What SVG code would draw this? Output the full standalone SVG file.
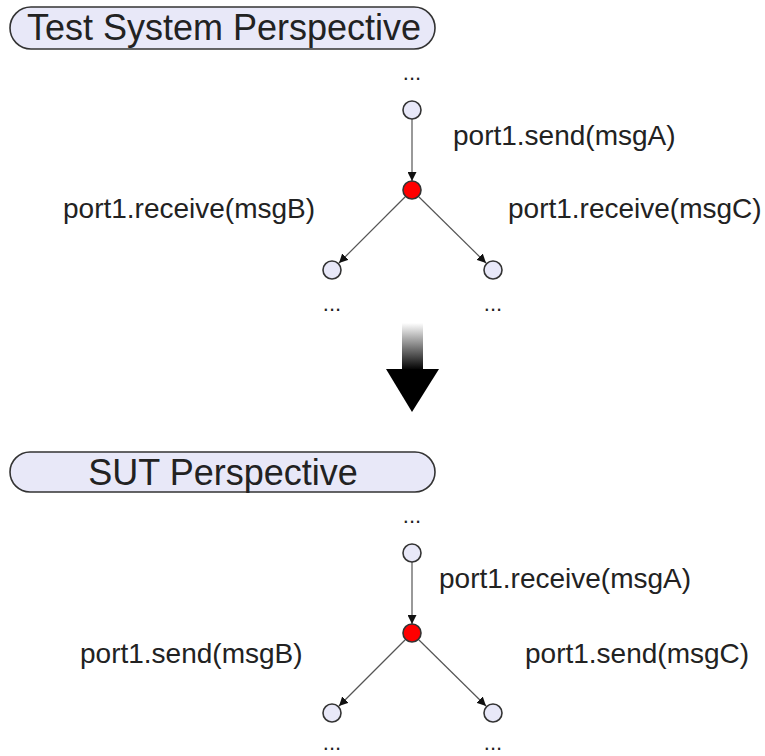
<svg xmlns="http://www.w3.org/2000/svg" width="765" height="756" viewBox="0 0 765 756">
<style>
.pill{fill:#e8e8f8;stroke:#333;stroke-width:1.6}
.title{font-family:"Liberation Sans",Arial,sans-serif;font-size:36px;fill:#222;text-anchor:middle}
.st{fill:#e8e8f8;stroke:#333;stroke-width:1.6}
.red{fill:#ff0000;stroke:#333;stroke-width:1.6}
.lbl{font-family:"Liberation Sans",Arial,sans-serif;font-size:28px;fill:#222}
.dots{font-family:"Liberation Sans",Arial,sans-serif;font-size:22px;fill:#222;text-anchor:middle}
.edge{stroke:#555;stroke-width:1.2;fill:none;marker-end:url(#ah)}
</style>
<defs>
<marker id="ah" viewBox="0 0 10 10" refX="10" refY="5" markerWidth="9" markerHeight="9" markerUnits="userSpaceOnUse" orient="auto">
<path d="M0,0 L10,5 L0,10 z" fill="#111"/>
</marker>
<linearGradient id="grad" x1="0" y1="0" x2="0" y2="1">
<stop offset="0" stop-color="#ffffff"/>
<stop offset="1" stop-color="#000000"/>
</linearGradient>
</defs>

<g id="title-test">
<rect class="pill" x="10" y="7" width="425" height="42" rx="21" ry="21"/>
<text class="title" x="224" y="40">Test System Perspective</text>
</g>

<g id="connectors-top">
<line class="edge" x1="412" y1="119" x2="412" y2="181"/>
<line class="edge" x1="405" y1="197" x2="339" y2="263"/>
<line class="edge" x1="419" y1="197" x2="486" y2="263"/>
</g>

<g id="t-dots-top"><text class="dots" x="412" y="80">...</text></g>
<g id="t-s0"><circle class="st" cx="412" cy="110" r="9"/></g>
<g id="t-s1"><circle class="red" cx="412" cy="190" r="9"/></g>
<g id="t-s2"><circle class="st" cx="332" cy="270" r="9"/><text class="dots" x="332" y="311">...</text></g>
<g id="t-s3"><circle class="st" cx="493" cy="270" r="9"/><text class="dots" x="493" y="311">...</text></g>
<g id="t-labels">
<text class="lbl" x="453" y="145">port1.send(msgA)</text>
<text class="lbl" x="63" y="218">port1.receive(msgB)</text>
<text class="lbl" x="508" y="218">port1.receive(msgC)</text>
</g>

<g id="big-arrow">
<rect x="402" y="323" width="21" height="47" fill="url(#grad)"/>
<polygon points="386,369 439,369 412,412" fill="#000"/>
</g>

<g id="title-sut">
<rect class="pill" x="10" y="452" width="425" height="40" rx="20" ry="20"/>
<text class="title" x="223" y="485">SUT Perspective</text>
</g>

<g id="connectors-bottom">
<line class="edge" x1="412" y1="562" x2="412" y2="624"/>
<line class="edge" x1="405" y1="640" x2="339" y2="706"/>
<line class="edge" x1="419" y1="640" x2="486" y2="706"/>
</g>

<g id="s-dots-top"><text class="dots" x="412" y="523">...</text></g>
<g id="s-s0"><circle class="st" cx="412" cy="553" r="9"/></g>
<g id="s-s1"><circle class="red" cx="412" cy="633" r="9"/></g>
<g id="s-s2"><circle class="st" cx="332" cy="713" r="9"/><text class="dots" x="332" y="750">...</text></g>
<g id="s-s3"><circle class="st" cx="493" cy="713" r="9"/><text class="dots" x="493" y="750">...</text></g>
<g id="s-labels">
<text class="lbl" x="439" y="588">port1.receive(msgA)</text>
<text class="lbl" x="80" y="663">port1.send(msgB)</text>
<text class="lbl" x="525" y="663">port1.send(msgC)</text>
</g>
</svg>
